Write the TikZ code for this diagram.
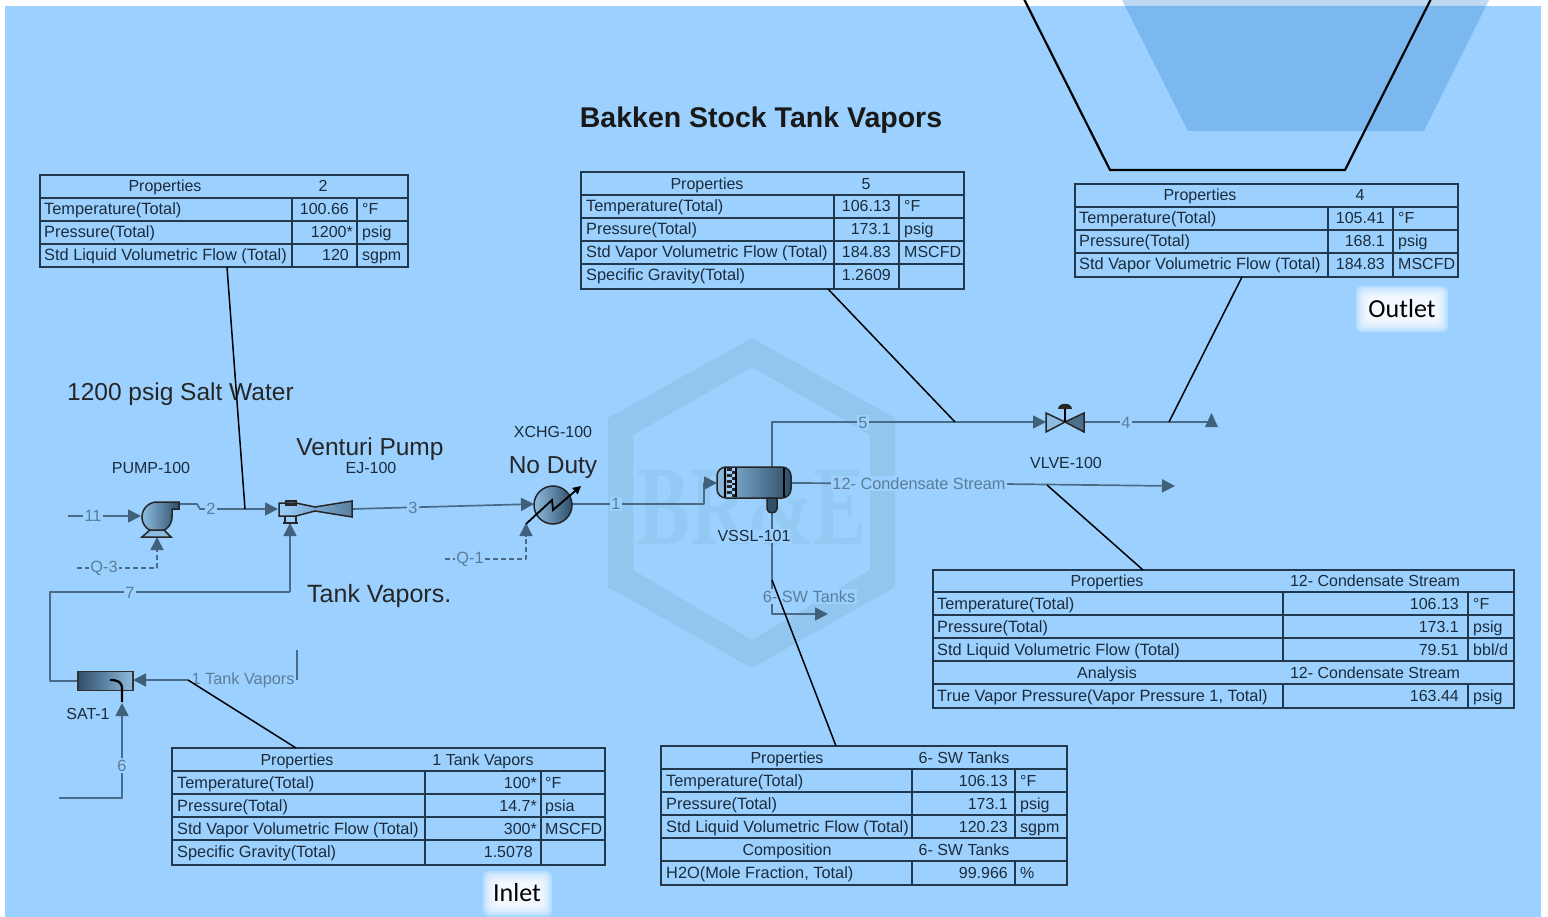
\documentclass[tikz,border=0pt]{standalone}
\usepackage{fontspec}
\setmainfont{Liberation Sans}
\newfontfamily\carl{Carlito}
\newfontfamily\serifw{Liberation Serif}
\usetikzlibrary{arrows.meta}
\definecolor{bgblue}{HTML}{9CD1FF}
\definecolor{wmark}{HTML}{92C6EF}
\definecolor{trap}{HTML}{7AB8EF}
\definecolor{trapw}{HTML}{BFD9F2}
\definecolor{streamc}{HTML}{4A6B87}
\definecolor{tipc}{HTML}{41607A}
\definecolor{lblc}{HTML}{5B7D9A}
\definecolor{inkc}{HTML}{1B2B3B}
\definecolor{gridc}{HTML}{22384C}
\definecolor{eqdark}{HTML}{2F4E69}
\definecolor{eqlight}{HTML}{8DBCE0}
\newcount\cellno
\tikzset{
  x=1pt,y=-1pt,
  stream/.style={draw=streamc,line width=1.7pt,line join=round},
  energy/.style={stream,dash pattern=on 5pt off 3pt},
  arrowed/.style={-{Triangle[length=13pt,width=13pt,color=tipc]}},
  leader/.style={draw=black,line width=1.5pt},
  grid/.style={draw=gridc,line width=1.4pt},
  tblbox/.style={draw=gridc,line width=1.6pt,anchor=north west,inner sep=0pt,outer sep=0pt},
  cellt/.style={inner sep=0pt,text=inkc,font=\fontsize{16}{18}\selectfont},
  celln/.style={inner sep=0pt,text=inkc,font=\fontsize{16.35}{18}\selectfont},
  slabel/.style={fill=bgblue,inner sep=1.5pt,text=lblc,font=\fontsize{16.3}{18}\selectfont},
  eqlabel/.style={inner sep=0pt,text=inkc,font=\fontsize{16}{18}\selectfont},
  biglabel/.style={inner sep=0pt,text=black!85,font=\fontsize{24.5}{28}\selectfont},
  equip/.style={draw=black!85,line width=1.5pt},
  callout/.style={inner sep=0pt,text=black,font=\carl\fontsize{26}{30}\selectfont},
}
\newcommand\cellN[3]{\global\advance\cellno by 1 \node[celln,anchor=base west] (c\the\cellno) at (#1,#2+5.5) {#3};}
\newcommand\cellL[3]{\global\advance\cellno by 1 \node[cellt,anchor=base west] (c\the\cellno) at (#1,#2+5.5) {#3};}
\newcommand\cellR[3]{\global\advance\cellno by 1 \node[cellt,anchor=base east] (c\the\cellno) at (#1,#2+5.5) {#3};}
\newcommand\cellC[3]{\global\advance\cellno by 1 \node[cellt,anchor=base] (c\the\cellno) at (#1,#2+5.5) {#3};}
\newcommand\glowbox[4]{%
  \foreach \g in {12,10,8,6,4,2,0}{\fill[white,opacity=.28,rounded corners=6pt] (#1-\g,#2-\g) rectangle (#3+\g,#4+\g);}}
\begin{document}
\begin{tikzpicture}
\useasboundingbox (0,0) rectangle (1548,917);
\clip (0,0) rectangle (1548,917);
\fill[white] (0,0) rectangle (1548,917);
\fill[bgblue] (5,6) rectangle (1541,917);
% top trapezoid
\fill[trapw] (1122,0) -- (1489,0) -- (1486,6) -- (1125,6) -- cycle;
\fill[trap] (1125,6) -- (1486,6) -- (1424,131) -- (1188,131) -- cycle;
\draw[black,line width=2.2pt,line join=miter] (1024,-1) -- (1110,170) -- (1345,170) -- (1431,-1);
% watermark
\fill[wmark,even odd rule] (752,338) -- (895,418) -- (895,587) -- (752,668) -- (608,587) -- (608,418) -- cycle
  (752,367) -- (870,435) -- (870,570) -- (752,640) -- (633,570) -- (633,435) -- cycle;
\node[inner sep=0pt,text=wmark!75!bgblue,xscale=.7,font=\serifw\bfseries\fontsize{113}{113}\selectfont] (wm) at (752,507) {BR\&E};

% title and free texts
\node[inner sep=0pt,text=black!90,font=\bfseries\fontsize{28.5}{30}\selectfont] (title) at (761,120) {Bakken Stock Tank Vapors};
\node[biglabel,anchor=west] (salt) at (67,394) {1200 psig Salt Water};
\node[biglabel] (venturi) at (370,449) {Venturi Pump};
\node[biglabel,anchor=west,font=\fontsize{25}{28}\selectfont] (tv) at (307,596) {Tank Vapors.};
\node[biglabel] (noduty) at (553,468) {No Duty};
\node[eqlabel] (lpump) at (151,468) {PUMP-100};
\node[eqlabel] (lej) at (371,468) {EJ-100};
\node[eqlabel] (lx) at (553,431.5) {XCHG-100};
\node[eqlabel] (lsat) at (88,714) {SAT-1};
\node[eqlabel] (lvlv) at (1066,463) {VLVE-100};

% anchor coordinates
\coordinate (s11a) at (68,516);
\coordinate (pumpin) at (141,516);
\coordinate (pumpout) at (179,504);
\coordinate (ejin) at (278,509);
\coordinate (tap2) at (245,509);
\coordinate (ejout) at (352,509);
\coordinate (xin) at (534,504);
\coordinate (xout) at (572,504);
\coordinate (vin) at (717,483);
\coordinate (vtop) at (772,467);
\coordinate (vright) at (791,483);
\coordinate (vboot) at (772,513);
\coordinate (tap5) at (955,422);
\coordinate (valvein) at (1046,422);
\coordinate (valveout) at (1084,422);
\coordinate (tap4) at (1169,422);
\coordinate (end4) at (1211,422);
\coordinate (tap12) at (1047,485);
\coordinate (end12) at (1175,486);
\coordinate (end6sw) at (828,614);
\coordinate (tap6sw) at (772,580);
\coordinate (tap1) at (188,680);
\coordinate (satin) at (133,680);
\coordinate (satout) at (78,681);
\coordinate (satbot) at (122,703);
\coordinate (ejbot) at (290,523);
\coordinate (pumpbot) at (157,537);
\coordinate (xbot) at (526,523);

% streams
\draw[stream,arrowed] (s11a) -- (pumpin);
\draw[stream,arrowed] (pumpout) -- (197,504) -- (200,509) -- (ejin);
\draw[stream,arrowed] (ejout) -- (xin);
\draw[stream,arrowed] (xout) -- (704,504) -- (704,483) -- (vin);
\draw[stream,arrowed] (vtop) -- (772,422) -- (valvein);
\draw[stream] (vright) -- (1005,484);
\draw[stream,arrowed] (1005,484) -- (end12);
\draw[stream] (valveout) -- (end4);
\fill[tipc] (1205,427) -- (1218,427) -- (1211.5,413) -- cycle;
\draw[stream,arrowed] (vboot) -- (772,614) -- (end6sw);
\draw[stream] (297,650) -- (297,680);
\draw[stream,arrowed] (tap1) -- (satin);
\draw[stream] (satout) -- (50,681) -- (50,592) -- (290,592);
\draw[stream,arrowed] (290,592) -- (ejbot);
\draw[stream,arrowed] (59,798) -- (122,798) -- (satbot);
\draw[energy,arrowed] (77,568) -- (157,568) -- (pumpbot);
\draw[energy,arrowed] (445,559) -- (526,559) -- (xbot);

% pump
\draw[equip,left color=eqlight,right color=eqdark] (157,502) -- (179,502) -- (179,509) -- (172,509) -- (172,517) .. controls (172,525.3) and (165.3,532) .. (157,532) .. controls (148.7,532) and (142,525.3) .. (142,517) .. controls (142,508.7) and (148.7,502) .. (157,502) -- cycle;
\node[inner sep=0pt,minimum size=0pt] (pump) at (157,517) {};
\draw[equip,fill=eqlight] (142,537) -- (150,530) -- (164,530) -- (171,537) -- cycle;
% ejector
\node[inner sep=0pt] (ej) at (315,509) {};
\draw[equip,left color=bgblue,right color=eqdark!55!eqlight] (279,503) -- (296,503) -- (315,507) -- (352,501) -- (352,517) -- (315,511) -- (296,516) -- (279,516) -- cycle;
\draw[equip,line width=1.2pt] (285,516) -- (285,523) (296,516) -- (296,523) (283,523) -- (298,523);
\draw[equip,line width=1.2pt] (286,501) -- (296,501) -- (296,505) -- (286,505) -- cycle;
% exchanger
\node[circle,equip,minimum size=38pt,inner sep=0pt,left color=eqlight,right color=eqdark] (xchg) at (553,505) {};
\draw[black,line width=1.8pt,-{Triangle[length=8pt,width=8pt]}] (526,524) -- (552,500) -- (553,510) -- (581,486);
% vessel
\node[equip,rounded corners=9pt,minimum width=74pt,minimum height=31pt,inner sep=0pt,left color=eqlight,right color=eqdark] (vssl) at (754,482.5) {};
\draw[equip,fill=eqdark] (767,498) -- (767,509) .. controls (767,514) and (777,514) .. (777,509) -- (777,498) -- cycle;
\fill[bgblue] (727,468) rectangle (736,497);
\foreach \r in {0,...,9}{\fill[black!85] ({727+mod(\r,2)*4.5},{468+\r*2.9}) rectangle ++(4.5,2.9);}
\draw[black,line width=1.2pt] (725,468) -- (725,497) (736,468) -- (736,497) (784,468) -- (784,497);
% valve
\node[inner sep=0pt] (vlv) at (1065,422) {};
\draw[equip,fill=eqlight] (1046,413) -- (1065,422) -- (1046,432) -- cycle;
\draw[equip,fill=eqdark!70!eqlight] (1084,413) -- (1065,422) -- (1084,432) -- cycle;
\draw[black,line width=1.5pt] (1065,422) -- (1065,408);
\fill[black!85] (1058,409) .. controls (1058,402) and (1072,402) .. (1072,409) -- cycle;
% saturator
\node[draw=black!80,line width=1.3pt,minimum width=55pt,minimum height=19pt,inner sep=0pt,left color=eqdark,right color=eqlight] (sat) at (105.5,681) {};
\draw[black,line width=2.2pt] (110,680) .. controls (118,680) and (122,682) .. (122,689) -- (122,702);

% stream labels
\node[slabel] (l11) at (93,516) {11};
\node[slabel] (l2) at (211,509) {2};
\node[slabel] (l3) at (413,508) {3};
\node[slabel] (l1) at (616,504) {1};
\node[slabel] (l5) at (863,422.5) {5};
\node[slabel] (l4) at (1126,422.5) {4};
\node[slabel] (l12) at (919,483.5) {12- Condensate Stream};
\node[slabel] (l6sw) at (809,596.5) {6- SW Tanks};
\node[slabel] (ltank) at (243,680.5) {1 Tank Vapors};
\node[slabel] (l7) at (130,592.5) {7};
\node[slabel] (l6) at (122,765.5) {6};
\node[slabel] (lq3) at (104,568.5) {Q-3};
\node[slabel] (lq1) at (470,559.5) {Q-1};
\node[eqlabel,fill=bgblue,inner sep=1pt] (lv) at (754,536) {VSSL-101};

% table 2
\node[tblbox,minimum width=368pt,minimum height=92pt] (t2) at (40,175) {};
\foreach \yy in {198,221,244}{\draw[grid] (40,\yy) -- (408,\yy);}
\draw[grid] (292,198) -- (292,267) (357,198) -- (357,267);
\cellC{165}{186}{Properties}\cellC{323}{186}{2}
\cellN{44}{209}{Temperature(Total)}\cellR{349}{209}{100.66}\cellL{362}{209}{°F}
\cellN{44}{232}{Pressure(Total)}\cellR{353}{232}{1200*}\cellL{362}{232}{psig}
\cellN{44}{255}{Std Liquid Volumetric Flow (Total)}\cellR{349}{255}{120}\cellL{362}{255}{sgpm}
% table 5
\node[tblbox,minimum width=383pt,minimum height=117pt] (t5) at (581,172) {};
\foreach \yy in {195,218,241,264}{\draw[grid] (581,\yy) -- (964,\yy);}
\draw[grid] (834,195) -- (834,289) (899,195) -- (899,289);
\cellC{707}{184}{Properties}\cellC{866}{184}{5}
\cellN{586}{206}{Temperature(Total)}\cellR{891}{206}{106.13}\cellL{904}{206}{°F}
\cellN{586}{229}{Pressure(Total)}\cellR{891}{229}{173.1}\cellL{904}{229}{psig}
\cellN{586}{252}{Std Vapor Volumetric Flow (Total)}\cellR{891}{252}{184.83}\cellL{904}{252}{MSCFD}
\cellN{586}{275}{Specific Gravity(Total)}\cellR{891}{275}{1.2609}
% table 4
\node[tblbox,minimum width=383pt,minimum height=93pt] (t4) at (1075,184) {};
\foreach \yy in {207,230,253}{\draw[grid] (1075,\yy) -- (1458,\yy);}
\draw[grid] (1328,207) -- (1328,277) (1393,207) -- (1393,277);
\cellC{1200}{195}{Properties}\cellC{1360}{195}{4}
\cellN{1079}{218}{Temperature(Total)}\cellR{1385}{218}{105.41}\cellL{1398}{218}{°F}
\cellN{1079}{241}{Pressure(Total)}\cellR{1385}{241}{168.1}\cellL{1398}{241}{psig}
\cellN{1079}{264}{Std Vapor Volumetric Flow (Total)}\cellR{1385}{264}{184.83}\cellL{1398}{264}{MSCFD}
% table 12
\node[tblbox,minimum width=581pt,minimum height=138pt] (t12) at (933,570) {};
\foreach \yy in {592,615,638,661,684}{\draw[grid] (933,\yy) -- (1514,\yy);}
\draw[grid] (1283,592) -- (1283,661) (1468,592) -- (1468,661) (1283,684) -- (1283,708) (1468,684) -- (1468,708);
\cellC{1107}{581}{Properties}\cellC{1375}{581}{12- Condensate Stream}
\cellN{937}{604}{Temperature(Total)}\cellR{1459}{604}{106.13}\cellL{1473}{604}{°F}
\cellN{937}{627}{Pressure(Total)}\cellR{1459}{627}{173.1}\cellL{1473}{627}{psig}
\cellN{937}{650}{Std Liquid Volumetric Flow (Total)}\cellR{1459}{650}{79.51}\cellL{1473}{650}{bbl/d}
\cellC{1107}{673}{Analysis}\cellC{1375}{673}{12- Condensate Stream}
\cellN{937}{696}{True Vapor Pressure(Vapor Pressure 1, Total)}\cellR{1459}{696}{163.44}\cellL{1473}{696}{psig}
% table 1
\node[tblbox,minimum width=433pt,minimum height=117pt] (t1) at (172,748) {};
\foreach \yy in {771,794,817,840}{\draw[grid] (172,\yy) -- (605,\yy);}
\draw[grid] (425,771) -- (425,865) (541,771) -- (541,865);
\cellC{297}{760}{Properties}\cellC{483}{760}{1 Tank Vapors}
\cellN{177}{783}{Temperature(Total)}\cellR{537}{783}{100*}\cellL{545}{783}{°F}
\cellN{177}{806}{Pressure(Total)}\cellR{537}{806}{14.7*}\cellL{545}{806}{psia}
\cellN{177}{829}{Std Vapor Volumetric Flow (Total)}\cellR{537}{829}{300*}\cellL{545}{829}{MSCFD}
\cellN{177}{852}{Specific Gravity(Total)}\cellR{533}{852}{1.5078}
% table 6
\node[tblbox,minimum width=406pt,minimum height=139pt] (t6) at (661,746) {};
\foreach \yy in {769,792,815,838,861}{\draw[grid] (661,\yy) -- (1067,\yy);}
\draw[grid] (912,769) -- (912,838) (1015,769) -- (1015,838) (912,861) -- (912,885) (1015,861) -- (1015,885);
\cellC{787}{758}{Properties}\cellC{964}{758}{6- SW Tanks}
\cellN{666}{781}{Temperature(Total)}\cellR{1008}{781}{106.13}\cellL{1020}{781}{°F}
\cellN{666}{804}{Pressure(Total)}\cellR{1008}{804}{173.1}\cellL{1020}{804}{psig}
\cellN{666}{827}{Std Liquid Volumetric Flow (Total)}\cellR{1008}{827}{120.23}\cellL{1020}{827}{sgpm}
\cellC{787}{850}{Composition}\cellC{964}{850}{6- SW Tanks}
\cellN{666}{873}{H2O(Mole Fraction, Total)}\cellR{1008}{873}{99.966}\cellL{1020}{873}{\%}

% leaders
\coordinate (t2lead) at (227,267);
\coordinate (t5lead) at (828,289);
\coordinate (t4lead) at (1242,277);
\coordinate (t12lead) at (1143,570);
\coordinate (t1lead) at (296,748);
\coordinate (t6lead) at (836,746);
\draw[leader] (t2lead) -- (tap2);
\draw[leader] (t5lead) -- (tap5);
\draw[leader] (t4lead) -- (tap4);
\draw[leader] (t12lead) -- (tap12);
\draw[leader] (t1lead) -- (tap1);
\draw[leader] (t6lead) -- (tap6sw);

% callouts
\glowbox{1368}{298}{1436}{320}
\node[callout] (outlet) at (1402,309) {Outlet};
\glowbox{495}{883}{540}{904}
\node[callout] (inlet) at (517,893) {Inlet};
\end{tikzpicture}
\end{document}
